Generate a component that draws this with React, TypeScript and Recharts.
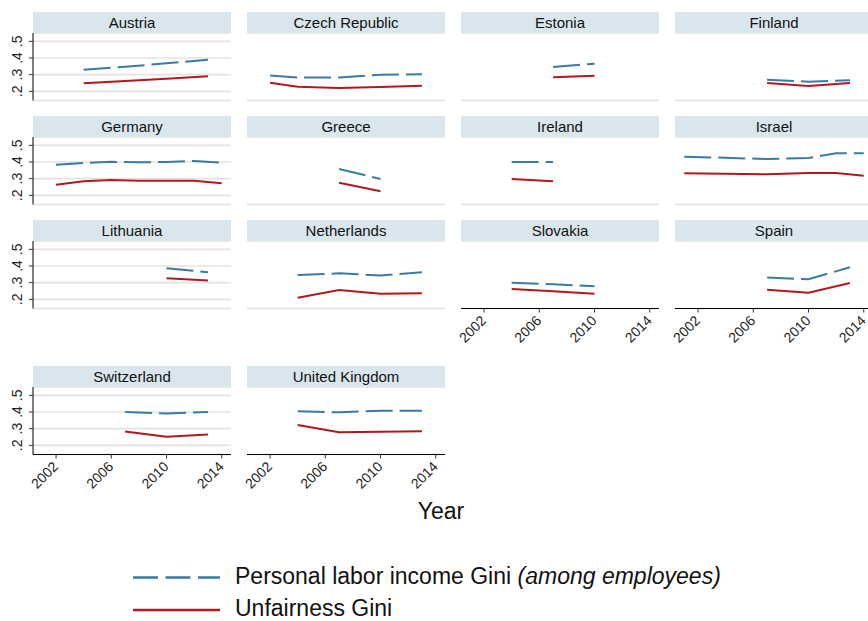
import React from 'react'
import { LineChart, Line, XAxis, YAxis, CartesianGrid } from 'recharts'

// values, one set per country
const AT_YEARS = [2004, 2007, 2010, 2013]
const AT_LABOR = [0.33, 0.347, 0.368, 0.39]
const AT_UNFAIR = [0.248, 0.262, 0.276, 0.29]

const CZ_YEARS = [2002, 2004, 2007, 2010, 2013]
const CZ_LABOR = [0.295, 0.283, 0.283, 0.3, 0.302]
const CZ_UNFAIR = [0.252, 0.228, 0.22, 0.226, 0.234]

const EE_YEARS = [2007, 2010]
const EE_LABOR = [0.346, 0.366]
const EE_UNFAIR = [0.285, 0.293]

const FI_YEARS = [2007, 2010, 2013]
const FI_LABOR = [0.27, 0.258, 0.267]
const FI_UNFAIR = [0.25, 0.232, 0.25]

const DE_YEARS = [2002, 2004, 2006, 2008, 2010, 2012, 2014]
const DE_LABOR = [0.384, 0.394, 0.401, 0.398, 0.4, 0.406, 0.396]
const DE_UNFAIR = [0.264, 0.285, 0.292, 0.288, 0.288, 0.287, 0.273]

const GR_YEARS = [2007, 2010]
const GR_LABOR = [0.358, 0.298]
const GR_UNFAIR = [0.275, 0.225]

const IE_YEARS = [2004, 2007]
const IE_LABOR = [0.4, 0.4]
const IE_UNFAIR = [0.298, 0.285]

const IL_YEARS = [2001, 2007, 2010, 2012, 2014]
const IL_LABOR = [0.432, 0.418, 0.424, 0.452, 0.452]
const IL_UNFAIR = [0.333, 0.326, 0.334, 0.334, 0.318]

const LT_YEARS = [2010, 2013]
const LT_LABOR = [0.386, 0.363]
const LT_UNFAIR = [0.327, 0.313]

const NL_YEARS = [2004, 2007, 2010, 2013]
const NL_LABOR = [0.346, 0.356, 0.343, 0.363]
const NL_UNFAIR = [0.21, 0.256, 0.233, 0.237]

const SK_YEARS = [2004, 2007, 2010]
const SK_LABOR = [0.3, 0.29, 0.279]
const SK_UNFAIR = [0.262, 0.248, 0.233]

const ES_YEARS = [2007, 2010, 2013]
const ES_LABOR = [0.331, 0.32, 0.393]
const ES_UNFAIR = [0.258, 0.24, 0.298]

const CH_YEARS = [2007, 2010, 2013]
const CH_LABOR = [0.4, 0.391, 0.4]
const CH_UNFAIR = [0.283, 0.251, 0.265]

const UK_YEARS = [2004, 2007, 2010, 2013]
const UK_LABOR = [0.404, 0.398, 0.408, 0.407]
const UK_UNFAIR = [0.322, 0.279, 0.281, 0.285]

const X_TICKS = [2002, 2006, 2010, 2014]
const Y_TICKS = [0.2, 0.3, 0.4, 0.5]

const BLUE = '#3a7aa3'
const RED = '#b3181f'
const FONT = '"Liberation Sans", Arial, Helvetica, sans-serif'

const build = (years: number[], labor: number[], unfair: number[]) =>
  years.map((year, i) => ({ year, labor: labor[i], unfair: unfair[i] }))

const panels = [
  { name: 'Austria', data: build(AT_YEARS, AT_LABOR, AT_UNFAIR) },
  { name: 'Czech Republic', data: build(CZ_YEARS, CZ_LABOR, CZ_UNFAIR) },
  { name: 'Estonia', data: build(EE_YEARS, EE_LABOR, EE_UNFAIR) },
  { name: 'Finland', data: build(FI_YEARS, FI_LABOR, FI_UNFAIR) },
  { name: 'Germany', data: build(DE_YEARS, DE_LABOR, DE_UNFAIR) },
  { name: 'Greece', data: build(GR_YEARS, GR_LABOR, GR_UNFAIR) },
  { name: 'Ireland', data: build(IE_YEARS, IE_LABOR, IE_UNFAIR) },
  { name: 'Israel', data: build(IL_YEARS, IL_LABOR, IL_UNFAIR) },
  { name: 'Lithuania', data: build(LT_YEARS, LT_LABOR, LT_UNFAIR) },
  { name: 'Netherlands', data: build(NL_YEARS, NL_LABOR, NL_UNFAIR) },
  { name: 'Slovakia', data: build(SK_YEARS, SK_LABOR, SK_UNFAIR) },
  { name: 'Spain', data: build(ES_YEARS, ES_LABOR, ES_UNFAIR) },
  { name: 'Switzerland', data: build(CH_YEARS, CH_LABOR, CH_UNFAIR) },
  { name: 'United Kingdom', data: build(UK_YEARS, UK_LABOR, UK_UNFAIR) },
]

// panel grid
const COL_X = [33, 247, 461, 675]
const ROW_Y = [12, 116, 220, 366]
const PW = 198
const STRIP = 21
const PH = 67.5
const AXW = 40
const AXH = 45

const YTick = (props: any) => {
  const { x, y, payload } = props
  const label = payload.value.toFixed(1).replace(/^0/, '')
  return (
    <text x={x} y={y} transform={`rotate(-90, ${x}, ${y})`} textAnchor="middle"
      fontSize={14} fontFamily={FONT} fill="#222">{label}</text>
  )
}

const XTick = (props: any) => {
  const { x, y, payload } = props
  const tx = x + 3
  const ty = y + 7
  return (
    <text x={tx} y={ty} transform={`rotate(-45, ${tx}, ${ty})`} textAnchor="end"
      fontSize={14} fontFamily={FONT} fill="#222">{payload.value}</text>
  )
}

function Panel({ name, data, idx }: { name: string; data: any[]; idx: number }) {
  const col = idx % 4
  const row = Math.floor(idx / 4)
  const showY = col === 0
  const showX = idx >= 10
  const left = COL_X[col]
  const top = ROW_Y[row]
  return (
    <>
      <div style={{
        position: 'absolute', left, top, width: PW, height: STRIP,
        background: '#d9e6ee', textAlign: 'center', lineHeight: `${STRIP}px`,
        fontSize: 15, fontFamily: FONT, color: '#111',
      }}>{name}</div>
      <div style={{ position: 'absolute', left: left - AXW, top: top + STRIP }}>
        <LineChart width={AXW + PW + 12} height={PH + AXH} data={data}
          margin={{ top: 0, right: 12, bottom: 0, left: 0 }}>
          <CartesianGrid vertical={false} stroke="#e3e3e3" strokeWidth={1.6} />
          <XAxis dataKey="year" type="number" domain={[2000.33, 2014.67]} ticks={X_TICKS}
            interval={0} height={AXH} allowDataOverflow
            axisLine={showX ? { stroke: '#000', strokeWidth: 1 } : false}
            tickLine={showX ? { stroke: '#333' } : false} tickSize={4}
            tick={showX ? <XTick /> : false} />
          <YAxis type="number" domain={[0.145, 0.55]} ticks={Y_TICKS} width={AXW}
            interval={0} allowDataOverflow
            axisLine={showY ? { stroke: '#000', strokeWidth: 1 } : false}
            tickLine={showY ? { stroke: '#333' } : false} tickSize={4} tickMargin={7}
            tick={showY ? <YTick /> : false} />
          <Line dataKey="labor" stroke={BLUE} strokeWidth={2} strokeDasharray="27 7"
            dot={false} isAnimationActive={false} />
          <Line dataKey="unfair" stroke={RED} strokeWidth={2}
            dot={false} isAnimationActive={false} />
        </LineChart>
      </div>
    </>
  )
}

export default function App() {
  return (
    <div style={{
      position: 'absolute', left: 0, top: 0, width: 868, height: 621,
      overflow: 'hidden', background: '#fff', fontFamily: FONT,
    }}>
      {panels.map((p, i) => <Panel key={p.name} name={p.name} data={p.data} idx={i} />)}
      <div style={{ position: 'absolute', left: 341, width: 200, top: 498, textAlign: 'center', fontSize: 23, color: '#111' }}>
        Year
      </div>
      <svg style={{ position: 'absolute', left: 0, top: 560 }} width={240} height={60}>
        <line x1={133} x2={220} y1={17.5} y2={17.5} stroke={BLUE} strokeWidth={2.5} strokeDasharray="25 7.5" />
        <line x1={133} x2={220} y1={50} y2={50} stroke={RED} strokeWidth={2.5} />
      </svg>
      <div style={{ position: 'absolute', left: 235, top: 563, fontSize: 23, color: '#111', whiteSpace: 'nowrap' }}>
        Personal labor income Gini <i>(among employees)</i>
      </div>
      <div style={{ position: 'absolute', left: 235, top: 595, fontSize: 23, color: '#111', whiteSpace: 'nowrap' }}>
        Unfairness Gini
      </div>
    </div>
  )
}
